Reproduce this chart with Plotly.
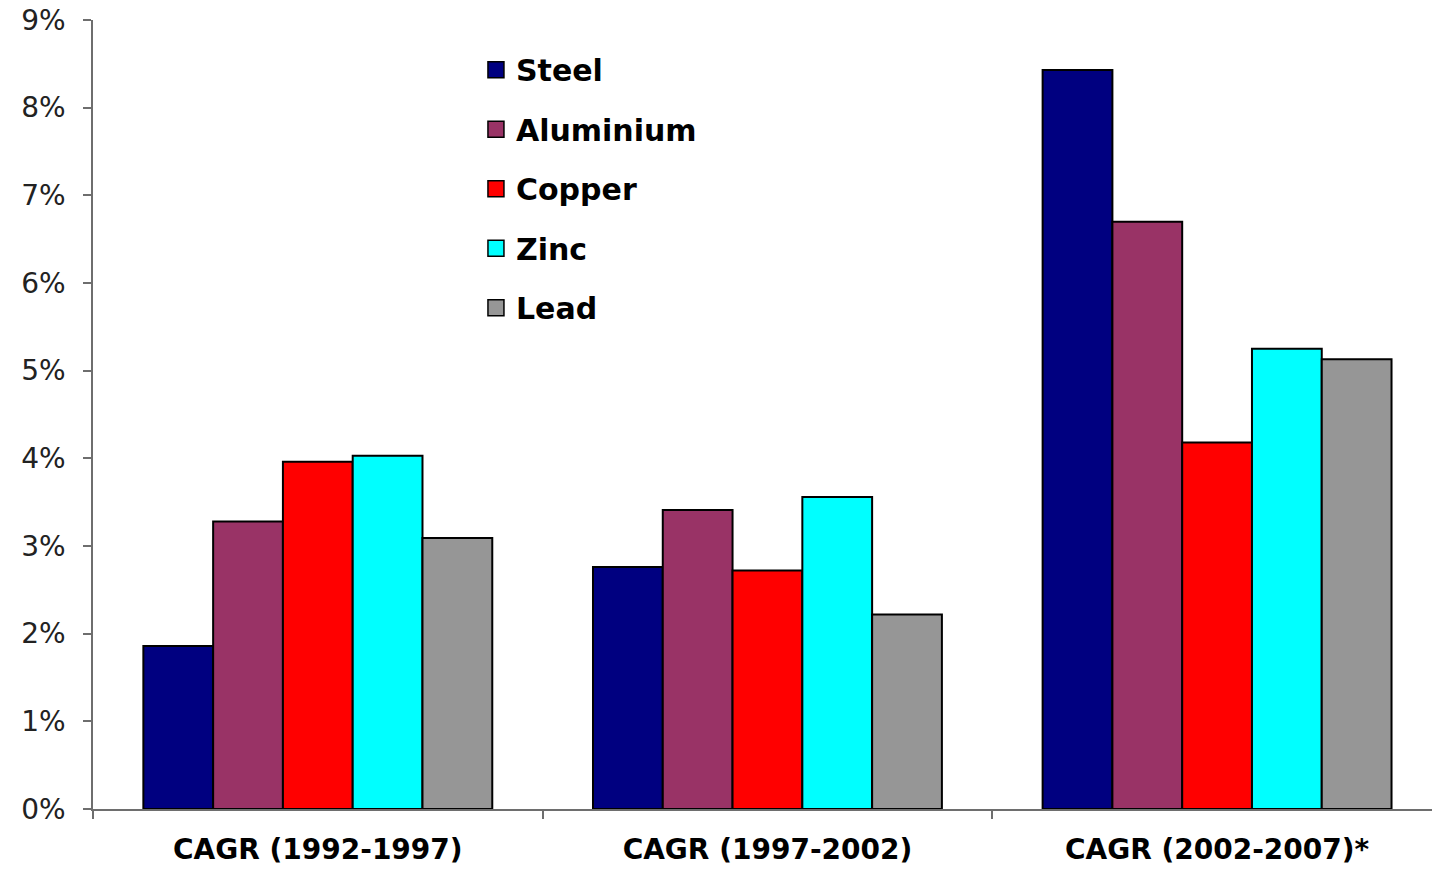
import plotly.graph_objects as go

categories = ["CAGR (1992-1997)", "CAGR (1997-2002)", "CAGR (2002-2007)*"]
series_names = ["Steel", "Aluminium", "Copper", "Zinc", "Lead"]
steel = [1.86, 2.76, 8.43]
aluminium = [3.28, 3.41, 6.70]
copper = [3.96, 2.72, 4.18]
zinc = [4.03, 3.56, 5.25]
lead = [3.09, 2.22, 5.13]
y_ticks = [0, 1, 2, 3, 4, 5, 6, 7, 8, 9]
y_tick_labels = ["0%", "1%", "2%", "3%", "4%", "5%", "6%", "7%", "8%", "9%"]

colors = ["#000080", "#993366", "#FF0000", "#00FFFF", "#969696"]
values = [steel, aluminium, copper, zinc, lead]

FONT = "DejaVu Sans"
fig = go.Figure()
for name, vals, col in zip(series_names, values, colors):
    fig.add_trace(go.Bar(
        x=categories, y=vals, name=name, showlegend=False,
        marker=dict(color=col, line=dict(color="#000000", width=2)),
    ))
# legend entries with larger square swatches
for i, (name, col) in enumerate(zip(series_names, colors)):
    fig.add_trace(go.Scatter(
        x=[None], y=[None], mode="markers", name=name, legendgroup=f"g{i}",
        marker=dict(symbol="square", size=16, color=col,
                    line=dict(color="#000000", width=1.5)),
    ))

fig.update_layout(
    width=1432, height=869,
    margin=dict(l=93, r=0, t=20, b=60, autoexpand=False),
    paper_bgcolor="white", plot_bgcolor="white",
    barmode="group", bargap=0.224, bargroupgap=0,
    font=dict(family=FONT, color="#111111"),
    legend=dict(
        x=0.286, y=0.97, xanchor="left", yanchor="top",
        font=dict(family=FONT, size=30, color="#000000", weight="bold"),
        traceorder="grouped", tracegroupgap=17.5,
        bgcolor="rgba(0,0,0,0)", itemsizing="trace",
    ),
)
fig.update_xaxes(
    type="category", range=[-0.5, 2.478], automargin=False,
    showline=True, linecolor="#6e6e6e", linewidth=1.5,
    ticks="outside", tickson="boundaries", ticklen=8, tickcolor="#6e6e6e", tickwidth=1.5,
    tickfont=dict(family=FONT, size=28, color="#000000", weight="bold"),
    ticklabelstandoff=15,
    showgrid=False, zeroline=False,
)
fig.update_yaxes(
    range=[0, 9], tickvals=y_ticks, ticktext=y_tick_labels, automargin=False,
    showline=True, linecolor="#6e6e6e", linewidth=1.5,
    ticks="outside", ticklen=8, tickcolor="#6e6e6e", tickwidth=1.5,
    tickfont=dict(family=FONT, size=28, color="#222222"),
    ticklabelstandoff=12, ticklabeloverflow="allow",
    showgrid=False, zeroline=False,
)

fig.write_html(
    "out.html",
    config={"displayModeBar": False},
    post_script="document.body.style.margin='0';document.body.style.overflow='hidden';",
)
